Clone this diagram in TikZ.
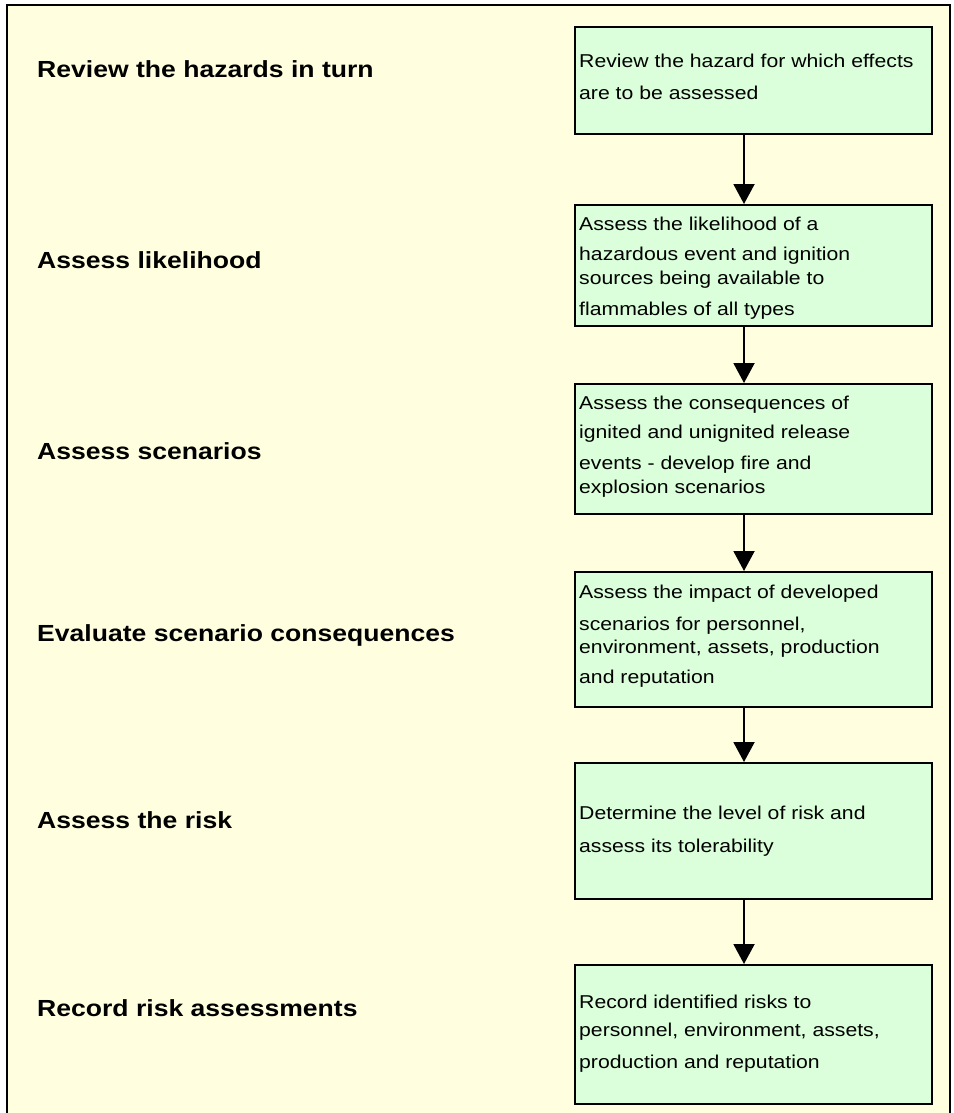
\documentclass[tikz,border=0pt]{standalone}
\usepackage{fontspec}
\setmainfont{Liberation Sans}[FakeStretch=1.14]
\usetikzlibrary{arrows.meta}
\definecolor{cream}{HTML}{FFFFE0}
\definecolor{boxgreen}{HTML}{DAFFDA}
\tikzset{
  stepbox/.style={draw=black, line width=2pt, fill=boxgreen, anchor=north west, inner sep=0pt, minimum width=357pt},
  boxtxt/.style={anchor=base west, inner sep=0pt, font=\fontsize{18.6}{22}\selectfont},
  labtxt/.style={anchor=base west, inner sep=0pt, font=\bfseries\fontsize{23.3}{28}\selectfont},
  flowarrow/.style={line width=2pt, -{Triangle[width=21pt,length=20pt]}}
}
\begin{document}
\begin{tikzpicture}[x=1pt, y=-1pt]
\useasboundingbox (0,0) rectangle (953,1113);
\fill[white] (0,0) rectangle (953,1113);
\fill[cream] (7,5) rectangle (950,1113);
\draw[line width=2.2pt] (7,1113) -- (7,5) -- (950,5) -- (950,1113);

% boxes
\node[stepbox, minimum height=107pt] (b1) at (574,26) {};
\node[stepbox, minimum height=121pt] (b2) at (574,204) {};
\node[stepbox, minimum height=130pt] (b3) at (574,383) {};
\node[stepbox, minimum height=135pt] (b4) at (574,571) {};
\node[stepbox, minimum height=136pt] (b5) at (574,762) {};
\node[stepbox, minimum height=139pt] (b6) at (574,964) {};

% box texts
\node[boxtxt] (t1a) at (579,68) {Review the hazard for which effects};
\node[boxtxt] (t1b) at (579,100) {are to be assessed};

\node[boxtxt] (t2a) at (579,230) {Assess the likelihood of a};
\node[boxtxt] (t2b) at (579,260) {hazardous event and ignition};
\node[boxtxt] (t2c) at (579,284) {sources being available to};
\node[boxtxt] (t2d) at (579,315) {flammables of all types};

\node[boxtxt] (t3a) at (579,409) {Assess the consequences of};
\node[boxtxt] (t3b) at (579,438) {ignited and unignited release};
\node[boxtxt] (t3c) at (579,469) {events - develop fire and};
\node[boxtxt] (t3d) at (579,493) {explosion scenarios};

\node[boxtxt] (t4a) at (579,598) {Assess the impact of developed};
\node[boxtxt] (t4b) at (579,630) {scenarios for personnel,};
\node[boxtxt] (t4c) at (579,653) {environment, assets, production};
\node[boxtxt] (t4d) at (579,683) {and reputation};

\node[boxtxt] (t5a) at (579,819) {Determine the level of risk and};
\node[boxtxt] (t5b) at (579,852) {assess its tolerability};

\node[boxtxt] (t6a) at (579,1008) {Record identified risks to};
\node[boxtxt] (t6b) at (579,1036) {personnel, environment, assets,};
\node[boxtxt] (t6c) at (579,1068) {production and reputation};

% left labels
\node[labtxt] (l1) at (37,78) {Review the hazards in turn};
\node[labtxt] (l2) at (37,268) {Assess likelihood};
\node[labtxt] (l3) at (37,459) {Assess scenarios};
\node[labtxt] (l4) at (37,641) {Evaluate scenario consequences};
\node[labtxt] (l5) at (37,828) {Assess the risk};
\node[labtxt] (l6) at (37,1016) {Record risk assessments};

% arrows
\draw[flowarrow] ([xshift=-9.5pt]b1.south) -- ([xshift=-9.5pt]b2.north);
\draw[flowarrow] ([xshift=-9.5pt]b2.south) -- ([xshift=-9.5pt]b3.north);
\draw[flowarrow] ([xshift=-9.5pt]b3.south) -- ([xshift=-9.5pt]b4.north);
\draw[flowarrow] ([xshift=-9.5pt]b4.south) -- ([xshift=-9.5pt]b5.north);
\draw[flowarrow] ([xshift=-9.5pt]b5.south) -- ([xshift=-9.5pt]b6.north);
\end{tikzpicture}
\end{document}
